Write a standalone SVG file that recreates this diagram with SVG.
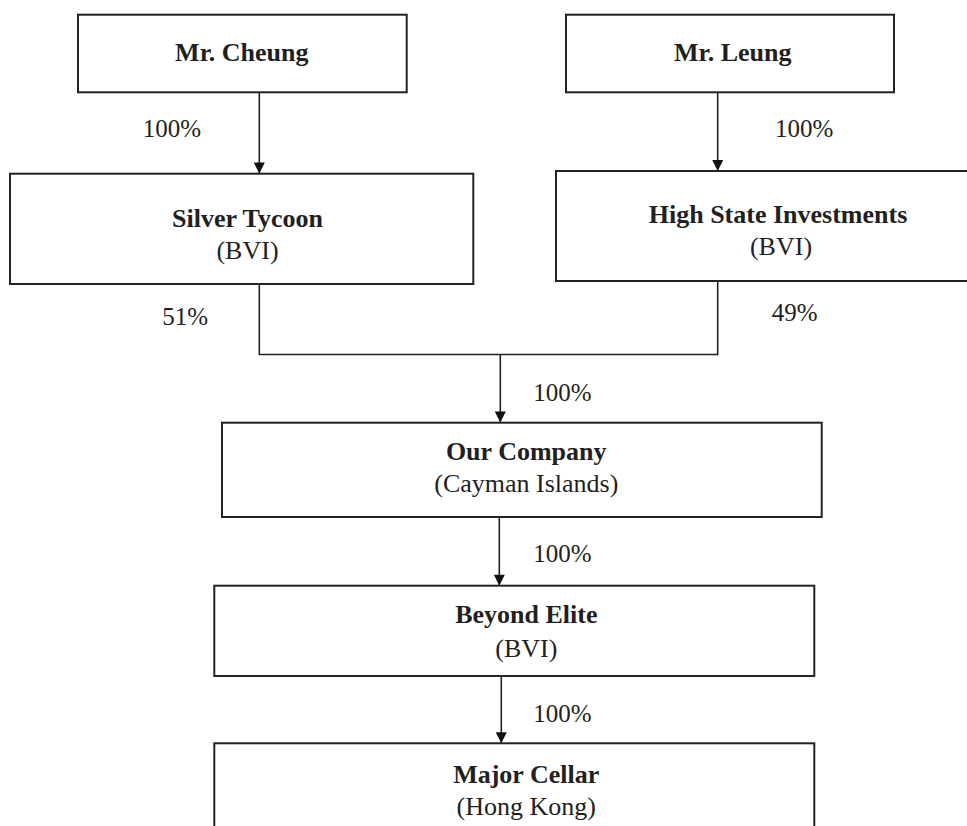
<svg xmlns="http://www.w3.org/2000/svg" width="967" height="826" viewBox="0 0 967 826">
  <style>
    .box { fill: #ffffff; stroke: #222222; stroke-width: 2; }
    .conn { fill: none; stroke: #222222; stroke-width: 1.6; }
    .title { font-family: "Liberation Serif", "Times New Roman", serif; font-size: 26px; font-weight: bold; fill: #231f20; text-anchor: middle; }
    .sub { font-family: "Liberation Serif", "Times New Roman", serif; font-size: 26px; fill: #231f20; text-anchor: middle; }
    .pct { font-family: "Liberation Serif", "Times New Roman", serif; font-size: 25px; fill: #231f20; }
  </style>
  <defs>
    <marker id="arrow" viewBox="0 0 12 12" refX="12" refY="6" markerWidth="12" markerHeight="11" markerUnits="userSpaceOnUse" orient="auto">
      <path d="M0,0 L12,6 L0,12 z" fill="#111111"/>
    </marker>
  </defs>
  <rect width="967" height="826" fill="#ffffff"/>

  <g id="connectors">
    <line class="conn" x1="259.3" y1="92" x2="259.3" y2="173.5" marker-end="url(#arrow)"/>
    <line class="conn" x1="717.7" y1="92" x2="717.7" y2="171" marker-end="url(#arrow)"/>
    <polyline class="conn" points="259.3,284 259.3,354.5 717.7,354.5 717.7,281"/>
    <line class="conn" x1="500.3" y1="354.5" x2="500.3" y2="422.5" marker-end="url(#arrow)"/>
    <line class="conn" x1="499.3" y1="517" x2="499.3" y2="585.7" marker-end="url(#arrow)"/>
    <line class="conn" x1="501.3" y1="676" x2="501.3" y2="743.3" marker-end="url(#arrow)"/>
    <text class="pct" x="142.7" y="137">100%</text>
    <text class="pct" x="775" y="137.3">100%</text>
    <text class="pct" x="162.3" y="324.5">51%</text>
    <text class="pct" x="771.7" y="321">49%</text>
    <text class="pct" x="533.3" y="400.7">100%</text>
    <text class="pct" x="533.3" y="562.3">100%</text>
    <text class="pct" x="533.3" y="722.3">100%</text>
  </g>

  <g id="mr-cheung">
    <rect class="box" x="78" y="14.7" width="328.7" height="77.6"/>
    <text class="title" x="241.8" y="60.5">Mr. Cheung</text>
  </g>

  <g id="mr-leung">
    <rect class="box" x="566" y="14.7" width="328" height="77.6"/>
    <text class="title" x="732.8" y="61">Mr. Leung</text>
  </g>

  <g id="silver-tycoon">
    <rect class="box" x="10" y="173.7" width="463.3" height="110.3"/>
    <text class="title" x="247.5" y="226.7">Silver Tycoon</text>
    <text class="sub" x="247.5" y="259">(BVI)</text>
  </g>

  <g id="high-state-investments">
    <rect class="box" x="556" y="171" width="450" height="110"/>
    <text class="title" x="778" y="222.7">High State Investments</text>
    <text class="sub" x="781" y="255">(BVI)</text>
  </g>

  <g id="our-company">
    <rect class="box" x="222" y="422.7" width="599.7" height="94.3"/>
    <text class="title" x="526.2" y="460">Our Company</text>
    <text class="sub" x="526.3" y="491.7">(Cayman Islands)</text>
  </g>

  <g id="beyond-elite">
    <rect class="box" x="214.3" y="585.7" width="600" height="90.3"/>
    <text class="title" x="526.3" y="623.3">Beyond Elite</text>
    <text class="sub" x="526.3" y="656.7">(BVI)</text>
  </g>

  <g id="major-cellar">
    <rect class="box" x="214.3" y="743.3" width="600" height="100"/>
    <text class="title" x="526.2" y="783.3">Major Cellar</text>
    <text class="sub" x="526.2" y="815">(Hong Kong)</text>
  </g>
</svg>
